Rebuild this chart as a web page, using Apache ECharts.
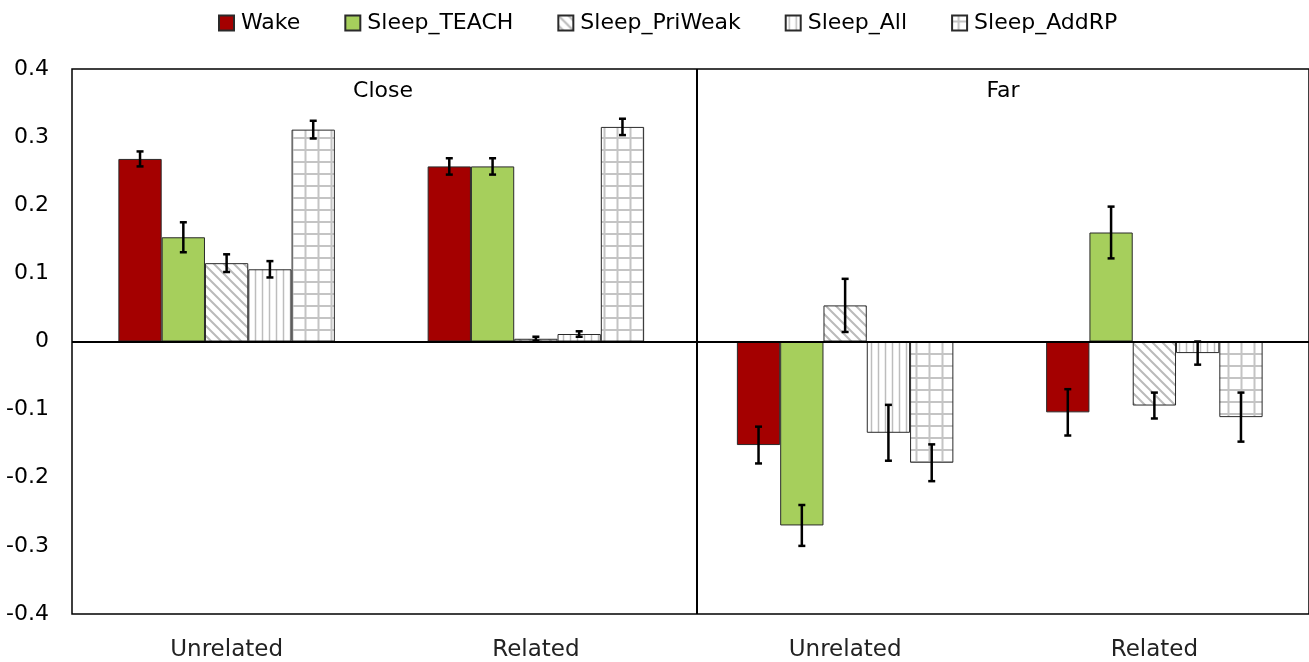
<!DOCTYPE html>
<html>
<head>
<meta charset="utf-8">
<script src="https://cdn.jsdelivr.net/npm/echarts@6/dist/echarts.min.js"></script>
<style>
  html, body { margin: 0; padding: 0; background: #fff; }
  #main { width: 1309px; height: 662px; }
</style>
</head>
<body>
<div id="main"></div>
<script>
// panels and conditions, one category per panel/condition pair
var panels = ['Close', 'Close', 'Far', 'Far'];
var relations = ['Unrelated', 'Related', 'Unrelated', 'Related'];
var seriesNames = ['Wake', 'Sleep_TEACH', 'Sleep_PriWeak', 'Sleep_All', 'Sleep_AddRP'];

// bar heights per series (Close-Unrelated, Close-Related, Far-Unrelated, Far-Related)
var wake = [0.268, 0.257, -0.152, -0.104];
var sleepTeach = [0.153, 0.257, -0.270, 0.160];
var sleepPriWeak = [0.115, 0.004, 0.053, -0.094];
var sleepAll = [0.106, 0.011, -0.134, -0.017];
var sleepAddRP = [0.311, 0.315, -0.178, -0.111];

// error bar half widths
var wakeErr = [0.011, 0.012, 0.027, 0.034];
var sleepTeachErr = [0.022, 0.012, 0.030, 0.038];
var sleepPriWeakErr = [0.013, 0.003, 0.039, 0.019];
var sleepAllErr = [0.012, 0.004, 0.041, 0.017];
var sleepAddRPErr = [0.013, 0.012, 0.027, 0.036];

var yTicks = [-0.4, -0.3, -0.2, -0.1, 0, 0.1, 0.2, 0.3, 0.4];

var values = [wake, sleepTeach, sleepPriWeak, sleepAll, sleepAddRP];
var errors = [wakeErr, sleepTeachErr, sleepPriWeakErr, sleepAllErr, sleepAddRPErr];

var FONT = 'DejaVu Sans';
var categories = relations.map(function(r, i) { return panels[i] + '|' + r; });

function makePattern(kind) {
  var c = document.createElement('canvas');
  var ctx;
  if (kind == 'diag') {
    c.width = 10; c.height = 10;
    ctx = c.getContext('2d');
    ctx.fillStyle = '#fff'; ctx.fillRect(0, 0, 10, 10);
    ctx.strokeStyle = '#bababa'; ctx.lineWidth = 2;
    ctx.beginPath();
    ctx.moveTo(-2, -2); ctx.lineTo(12, 12);
    ctx.moveTo(-2, 8); ctx.lineTo(2, 12);
    ctx.moveTo(8, -2); ctx.lineTo(12, 2);
    ctx.stroke();
  } else if (kind == 'vert') {
    c.width = 7; c.height = 7;
    ctx = c.getContext('2d');
    ctx.fillStyle = '#fff'; ctx.fillRect(0, 0, 7, 7);
    ctx.strokeStyle = '#bdbdbd'; ctx.lineWidth = 1.5;
    ctx.beginPath(); ctx.moveTo(3.5, 0); ctx.lineTo(3.5, 7); ctx.stroke();
  } else {
    c.width = 13; c.height = 12;
    ctx = c.getContext('2d');
    ctx.fillStyle = '#fff'; ctx.fillRect(0, 0, 13, 12);
    ctx.strokeStyle = '#c4c4c4'; ctx.lineWidth = 2;
    ctx.beginPath();
    ctx.moveTo(6.5, 0); ctx.lineTo(6.5, 12);
    ctx.moveTo(0, 6); ctx.lineTo(13, 6);
    ctx.stroke();
  }
  return { image: c, repeat: 'repeat' };
}

var fills = ['#a40000', '#a6cf5c', makePattern('diag'), makePattern('vert'), makePattern('grid')];

var series = seriesNames.map(function(name, k) {
  var s = {
    name: name,
    type: 'bar',
    data: values[k],
    barGap: 0,
    barCategoryGap: '30%',
    itemStyle: { color: fills[k], borderColor: '#2a2a2a', borderWidth: 1 },
    emphasis: { disabled: true }
  };
  if (k == 0) {
    s.markLine = {
      silent: true,
      symbol: 'none',
      label: { show: false },
      lineStyle: { color: '#000', width: 2, type: 'solid' },
      data: [{ yAxis: 0 }],
      z: 5
    };
  }
  return s;
});

seriesNames.forEach(function(name, k) {
  series.push({
    name: name + '_err',
    type: 'custom',
    z: 10,
    encode: { x: 0, y: 1 },
    data: values[k].map(function(v, i) { return [i, v, errors[k][i]]; }),
    renderItem: function(params, api) {
      var i = api.value(0), v = api.value(1), e = api.value(2);
      var bw = api.size([1, 0])[0] * 0.7 / 5;
      var x = api.coord([i, v])[0] + (k - 2) * bw;
      var y1 = api.coord([i, v + e])[1];
      var y2 = api.coord([i, v - e])[1];
      var style = { stroke: '#000', lineWidth: 2.5 };
      return {
        type: 'group',
        children: [
          { type: 'line', shape: { x1: x, y1: y1, x2: x, y2: y2 }, style: style },
          { type: 'line', shape: { x1: x - 3.5, y1: y1, x2: x + 3.5, y2: y1 }, style: style },
          { type: 'line', shape: { x1: x - 3.5, y1: y2, x2: x + 3.5, y2: y2 }, style: style }
        ]
      };
    }
  });
});

var chart = echarts.init(document.getElementById('main'));
var option = {
  backgroundColor: '#fff',
  animation: false,
  textStyle: { fontFamily: FONT },
  title: [
    { text: 'Close', left: 378, top: 75, textAlign: 'center',
      textStyle: { fontFamily: FONT, fontSize: 22, fontWeight: 'normal', color: '#000' } },
    { text: 'Far', left: 998, top: 75, textAlign: 'center',
      textStyle: { fontFamily: FONT, fontSize: 22, fontWeight: 'normal', color: '#000' } }
  ],
  legend: {
    data: seriesNames,
    top: 12,
    left: 218,
    padding: 0,
    icon: 'rect',
    itemWidth: 15,
    itemHeight: 15,
    itemGap: 44,
    textStyle: { fontFamily: FONT, fontSize: 22, color: '#000', padding: [0, 0, 0, 2] }
  },
  grid: {
    left: 72, right: -2, top: 69, bottom: 46,
    show: true, borderColor: '#000', borderWidth: 1.5, backgroundColor: '#fff'
  },
  xAxis: {
    type: 'category',
    data: categories,
    axisLine: { show: false },
    axisTick: { show: false },
    axisLabel: {
      margin: 25,
      fontFamily: FONT, fontSize: 23, color: '#222',
      formatter: function(v) { return v.split('|')[1]; }
    }
  },
  yAxis: {
    type: 'value',
    min: yTicks[0],
    max: yTicks[yTicks.length - 1],
    interval: 0.1,
    axisLine: { show: false },
    axisTick: { show: false },
    splitLine: { show: false },
    axisLabel: {
      margin: 23,
      fontFamily: FONT, fontSize: 22, color: '#000',
      formatter: function(v) { return String(Math.round(v * 10) / 10); }
    }
  },
  series: series
};
chart.setOption(option);

// panel divider between Close and Far
var yTop = chart.convertToPixel({ yAxisIndex: 0 }, yTicks[yTicks.length - 1]);
var yBot = chart.convertToPixel({ yAxisIndex: 0 }, yTicks[0]);
chart.setOption({
  graphic: [{
    type: 'line', z: 20,
    shape: { x1: 697, y1: yTop, x2: 697, y2: yBot },
    style: { stroke: '#000', lineWidth: 2 }
  }]
});
</script>
</body>
</html>
